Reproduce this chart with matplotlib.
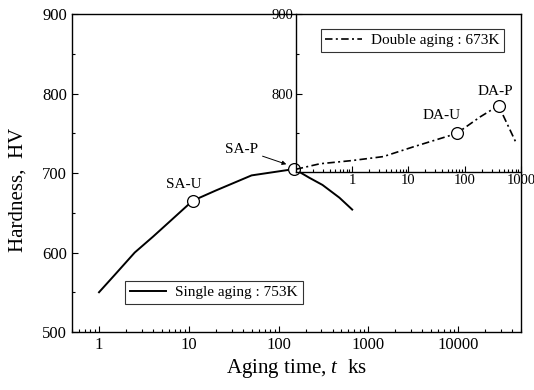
import matplotlib
matplotlib.use('Agg')
import matplotlib.pyplot as plt
from matplotlib.ticker import FixedLocator, LogLocator, MultipleLocator, FuncFormatter, NullFormatter

plt.rcParams['font.family'] = ['Liberation Serif', 'DejaVu Serif']
plt.rcParams['mathtext.fontset'] = 'custom'
plt.rcParams['mathtext.it'] = 'Liberation Serif:italic'
plt.rcParams['mathtext.rm'] = 'Liberation Serif'

# single aging at 753K (main axes)
t_single = [1, 1.5, 2.5, 4, 6, 11, 20, 50, 150, 220, 308, 475, 660]
h_single = [550, 572, 600, 620, 638, 665, 678, 697, 705, 694, 685, 669, 654]

# double aging at 673K (inset axes, time after single aging)
t_double = [0.1, 0.27, 1, 3.6, 12, 72, 190, 400, 810]
h_double = [705, 712, 716, 721, 733, 750, 771, 785, 739]

# marked states
sa_points = {'SA-U': (11, 665), 'SA-P': (150, 705)}
da_points = {'DA-U': (72, 750), 'DA-P': (400, 785)}

main_xticks = [1, 10, 100, 1000, 10000]
inset_xticks = [1, 10, 100, 1000]

fig = plt.figure(figsize=(5.34, 3.9), dpi=100)
ax = fig.add_axes([0.1348, 0.1487, 0.8408, 0.8154])
ins = fig.add_axes([0.5537, 0.5597, 0.4219, 0.4044])
ins.patch.set_alpha(0)

plain = FuncFormatter(lambda v, p: f'{v:g}')

# main axes
ax.plot(t_single, h_single, color='k', lw=1.4, label='Single aging : 753K')
for name, (x, y) in sa_points.items():
    ax.plot(x, y, 'o', ms=8.5, mfc='white', mec='k', mew=0.9, zorder=5, clip_on=False)
ax.text(8.7, 685, 'SA-U', ha='center', va='center', fontsize=11)
ax.annotate('SA-P', xy=(122, 711), xytext=(39, 730), ha='center', va='center', fontsize=11,
            arrowprops=dict(arrowstyle='-|>', color='k', lw=0.7, shrinkA=1, shrinkB=0,
                            mutation_scale=6))
ax.set_xscale('log')
ax.set_xlim(0.5, 50000)
ax.set_ylim(500, 900)
ax.xaxis.set_major_locator(FixedLocator(main_xticks))
ax.xaxis.set_major_formatter(plain)
ax.xaxis.set_minor_locator(LogLocator(base=10, subs=range(2, 10), numticks=20))
ax.xaxis.set_minor_formatter(NullFormatter())
ax.yaxis.set_major_locator(MultipleLocator(100))
ax.yaxis.set_minor_locator(MultipleLocator(50))
ax.tick_params(which='both', direction='in', labelsize=12, width=0.8)
ax.tick_params(which='major', length=4)
ax.tick_params(which='minor', length=2)
ax.set_xlabel('Aging time, $t$  ks', fontsize=15, labelpad=3)
ax.set_ylabel('Hardness,  HV', fontsize=15)
ax.yaxis.set_label_coords(-0.1, 0.447)
for s in ax.spines.values():
    s.set_linewidth(1.0)
leg = ax.legend(loc='lower left', bbox_to_anchor=(0.118, 0.088), borderaxespad=0,
                fontsize=11, frameon=True, fancybox=False, handlelength=2.4,
                borderpad=0.3, handletextpad=0.6)
leg.get_frame().set_edgecolor('k')
leg.get_frame().set_linewidth(0.8)

# inset axes
ins.plot(t_double, h_double, color='k', lw=1.2, dashes=(4.5, 2, 1.2, 2),
         label='Double aging : 673K')
for name, (x, y) in da_points.items():
    ins.plot(x, y, 'o', ms=8.5, mfc='white', mec='k', mew=0.9, zorder=5)
ins.text(39.6, 772, 'DA-U', ha='center', va='center', fontsize=11)
ins.text(358, 803, 'DA-P', ha='center', va='center', fontsize=11)
ins.set_xscale('log')
ins.set_xlim(0.1, 1000)
ins.set_ylim(702, 900)
ins.xaxis.set_major_locator(FixedLocator(inset_xticks))
ins.xaxis.set_major_formatter(plain)
ins.xaxis.set_minor_locator(LogLocator(base=10, subs=range(2, 10), numticks=20))
ins.xaxis.set_minor_formatter(NullFormatter())
ins.yaxis.set_major_locator(FixedLocator([800, 900]))
ins.yaxis.set_minor_locator(FixedLocator([750, 850]))
ins.tick_params(which='both', direction='in', labelsize=10.5, width=0.8, pad=2)
ins.tick_params(which='major', length=4)
ins.tick_params(which='minor', length=2)
ins.spines['top'].set_visible(False)
ins.spines['right'].set_visible(False)
for s in ['left', 'bottom']:
    ins.spines[s].set_linewidth(1.0)
leg2 = ins.legend(loc='upper left', bbox_to_anchor=(0.112, 0.905), borderaxespad=0,
                  fontsize=11, frameon=True, fancybox=False, handlelength=2.4,
                  borderpad=0.3, handletextpad=0.6)
leg2.get_frame().set_edgecolor('k')
leg2.get_frame().set_linewidth(0.8)

fig.savefig('out.png', dpi=100)
